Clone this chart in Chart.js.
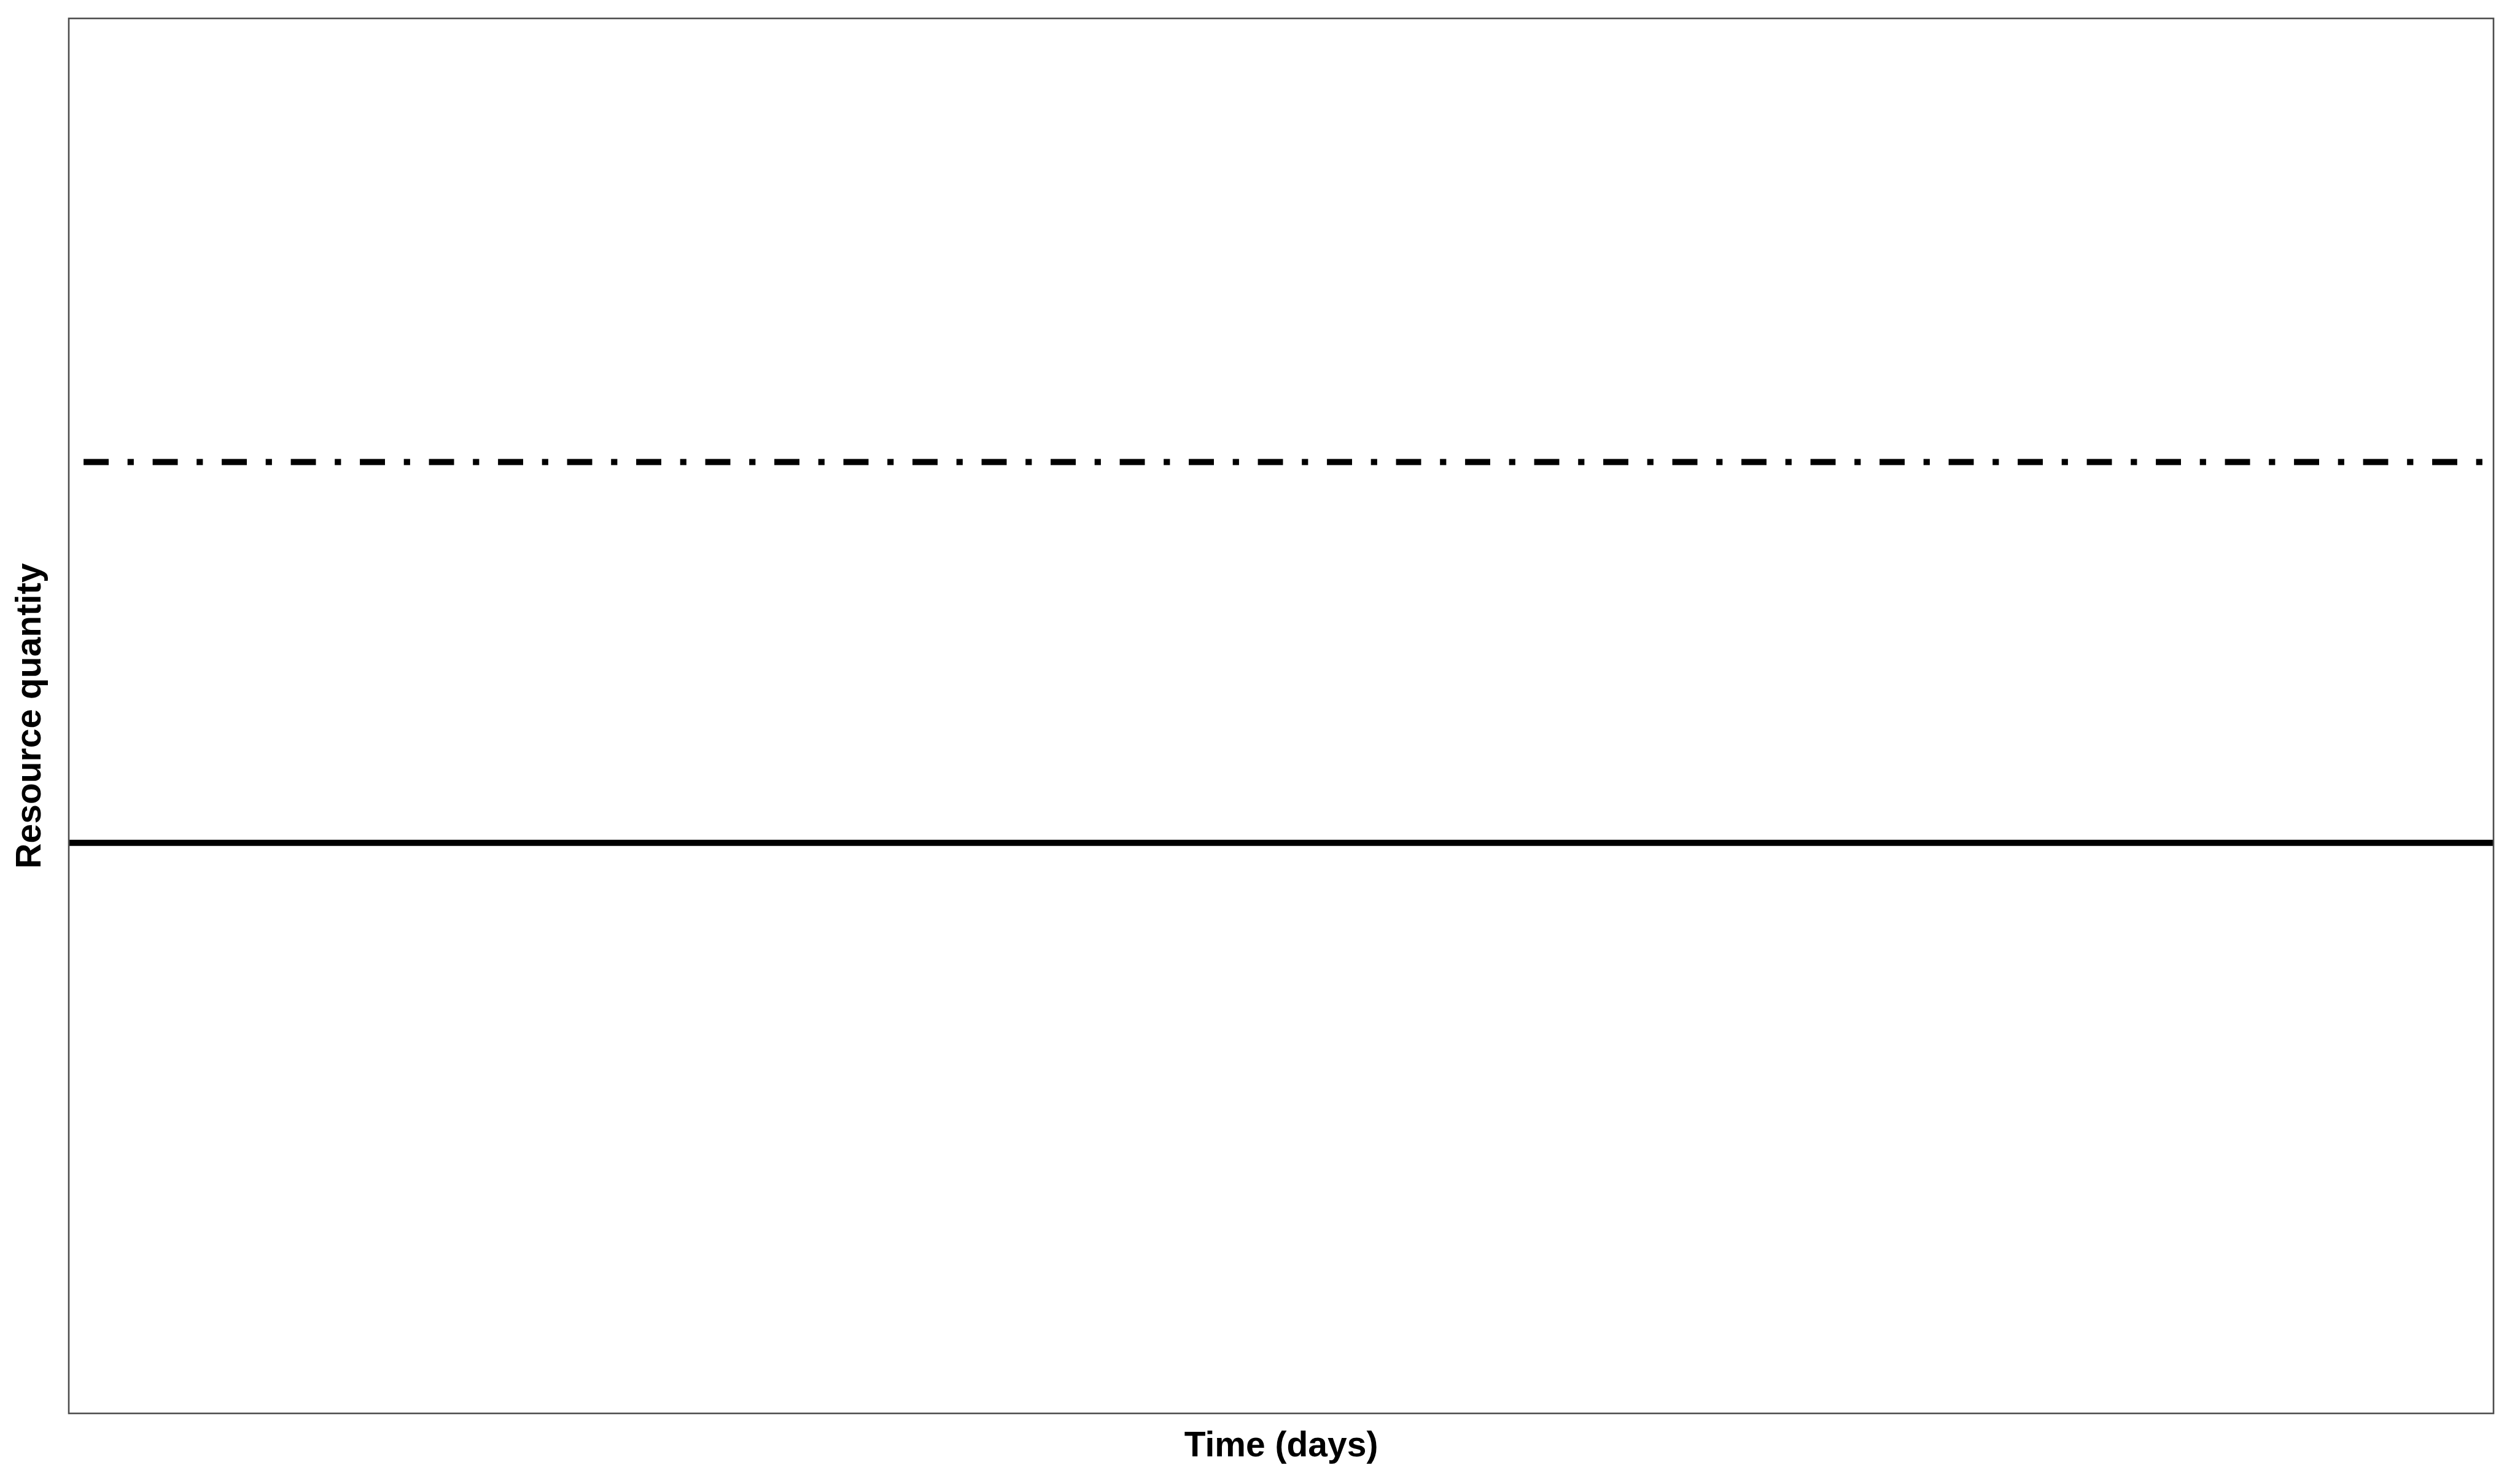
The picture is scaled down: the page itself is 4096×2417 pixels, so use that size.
<!DOCTYPE html>
<html>
<head>
<meta charset="utf-8">
<script src="https://cdn.jsdelivr.net/npm/chart.js@4"></script>
<style>
  html, body { margin: 0; padding: 0; background: #ffffff; }
  canvas { display: block; }
</style>
</head>
<body>
<canvas id="c" width="4096" height="2417"></canvas>
<script>
// ---- data ----
const timeDays = [0, 100];
const resourceSolid = [40.9, 40.9];
const resourceDashDot = [68.2, 68.2];
const xTitle = 'Time (days)';
const yTitle = 'Resource quantity';

const panelBorder = {
  id: 'panelBorder',
  beforeDraw(chart) {
    const ctx = chart.ctx;
    ctx.save();
    ctx.fillStyle = '#ffffff';
    ctx.fillRect(0, 0, chart.width, chart.height);
    ctx.restore();
  },
  afterDatasetsDraw(chart) {
    const a = chart.chartArea;
    const ctx = chart.ctx;
    ctx.save();
    ctx.strokeStyle = '#4d4d4d';
    ctx.lineWidth = 2.6;
    ctx.strokeRect(a.left, a.top, a.right - a.left, a.bottom - a.top);
    ctx.restore();
  }
};

const font = { family: '"Liberation Sans", Arial, sans-serif', size: 57, weight: 'bold' };

new Chart(document.getElementById('c'), {
  type: 'line',
  data: {
    datasets: [
      {
        data: timeDays.map((t, i) => ({ x: t, y: resourceSolid[i] })),
        borderColor: '#000000',
        borderWidth: 10.2,
        pointRadius: 0,
        borderCapStyle: 'butt',
        fill: false
      },
      {
        data: timeDays.map((t, i) => ({ x: t, y: resourceDashDot[i] })),
        borderColor: '#000000',
        borderWidth: 10.2,
        borderDash: [40.9, 30.7, 10.2, 30.7],
        borderDashOffset: 88.4,
        pointRadius: 0,
        borderCapStyle: 'butt',
        fill: false
      }
    ]
  },
  options: {
    responsive: false,
    devicePixelRatio: 1,
    animation: false,
    layout: { padding: { left: 16.5, top: 30, right: 35, bottom: 27 } },
    plugins: { legend: { display: false }, tooltip: { enabled: false } },
    scales: {
      x: {
        type: 'linear',
        min: 0, max: 100,
        grid: { display: false, drawTicks: false },
        border: { display: false },
        ticks: { display: false },
        title: { display: true, text: xTitle, color: '#000000', font: font, padding: { top: 19.6, bottom: 0 } }
      },
      y: {
        type: 'linear',
        min: 0, max: 100,
        grid: { display: false, drawTicks: false },
        border: { display: false },
        ticks: { display: false },
        title: { display: true, text: yTitle, color: '#000000', font: font, padding: { top: 0, bottom: 27.1 } }
      }
    }
  },
  plugins: [panelBorder]
});
</script>
</body>
</html>
